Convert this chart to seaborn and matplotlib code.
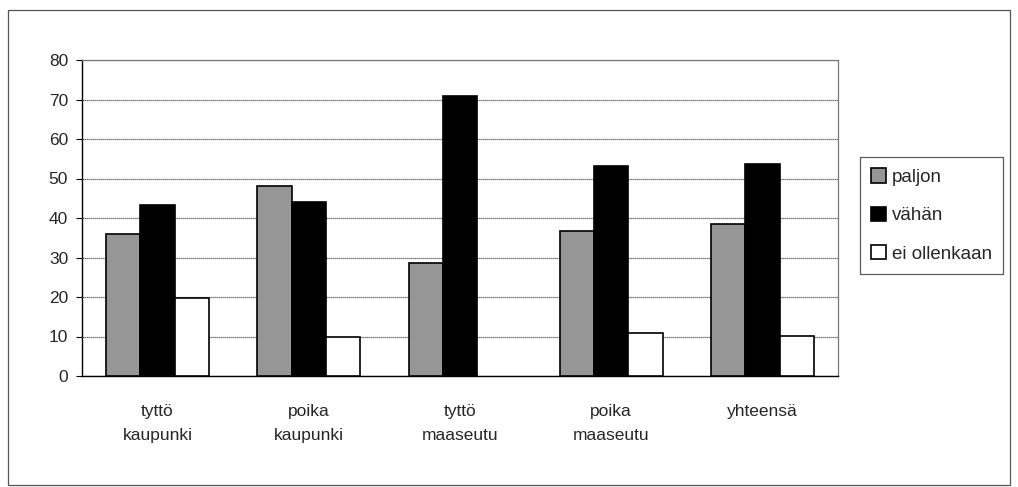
import numpy as np
import pandas as pd
import matplotlib
matplotlib.use("Agg")
import matplotlib.pyplot as plt
import seaborn as sns
from matplotlib.patches import Rectangle

categories = ["tyttö\nkaupunki", "poika\nkaupunki", "tyttö\nmaaseutu", "poika\nmaaseutu", "yhteensä"]
series = ["paljon", "vähän", "ei ollenkaan"]
paljon = [36, 48, 28.5, 36.7, 38.5]
vahan = [43.2, 44, 71, 53.1, 53.6]
ei_ollenkaan = [19.7, 9.8, 0, 10.9, 10.2]

df = pd.DataFrame({
    "ryhmä": categories * 3,
    "sarja": [s for s in series for _ in categories],
    "osuus": paljon + vahan + ei_ollenkaan,
})

sns.set_style("white")
plt.rcParams["font.family"] = ["Liberation Sans", "DejaVu Sans"]

fig = plt.figure(figsize=(10.18, 4.87), dpi=100)
ax = fig.add_axes([82 / 1018, 1 - 376 / 487, 756 / 1018, 316 / 487])

palette = {"paljon": "#969696", "vähän": "#000000", "ei ollenkaan": "#ffffff"}
sns.barplot(data=df, x="ryhmä", y="osuus", hue="sarja", hue_order=series,
            palette=palette, width=0.68, edgecolor="black", linewidth=1.2,
            saturation=1, ax=ax, legend=True, zorder=3)

handles, labels = ax.get_legend_handles_labels()
ax.legend_.remove()

# no outline for empty bars
for p in ax.patches:
    if p.get_width() > 0 and p.get_height() == 0:
        p.set_visible(False)

ax.set_ylim(0, 80)
ax.set_yticks(np.arange(0, 81, 10))
ax.set_xlim(-0.5, 4.5)
ax.grid(axis="y", color="#555555", linewidth=0.9, linestyle=(0, (1, 0.6)), zorder=0)
ax.set_axisbelow(True)
ax.set_xlabel("")
ax.set_ylabel("")
for side in ["top", "right"]:
    ax.spines[side].set_color("#777777")
    ax.spines[side].set_linewidth(0.9)
for side in ["left", "bottom"]:
    ax.spines[side].set_color("black")
    ax.spines[side].set_linewidth(1.0)

ax.set_xticks(np.arange(-0.5, 5, 1), minor=True)
ax.tick_params(axis="x", which="major", length=0, pad=20, labelsize=12.5)
ax.tick_params(axis="x", which="minor", length=5, direction="inout", color="black")
ax.tick_params(axis="y", length=4, color="black", left=True, labelsize=12.5, pad=6)
for lbl in ax.get_xticklabels():
    lbl.set_verticalalignment("top")
    lbl.set_linespacing(1.75)

leg = fig.legend(handles, labels, loc="upper left",
                 bbox_to_anchor=(860 / 1018, 1 - 157 / 487),
                 frameon=True, fancybox=False, edgecolor="#333333",
                 handlelength=0.8, handleheight=0.8, handletextpad=0.3,
                 labelspacing=1.1, fontsize=13.5, borderpad=0.6, borderaxespad=0)
leg.get_frame().set_linewidth(0.9)

fig.patches.append(Rectangle((8 / 1018, 2 / 487), 1002 / 1018, 475 / 487,
                             transform=fig.transFigure, fill=False,
                             edgecolor="#555555", linewidth=0.9))

fig.savefig("out.png", dpi=100)
